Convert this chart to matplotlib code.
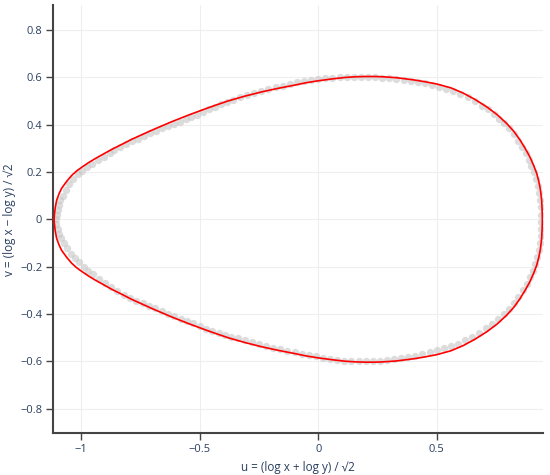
import numpy as np
from matplotlib import pyplot as plt

pts_u = [-1.105, -1.103, -1.100, -1.095, -1.088, -1.078, -1.065, -1.050, -1.035, -1.015,
         -0.995, -0.975, -0.955, -0.930, -0.905, -0.880, -0.860, -0.835, -0.810, -0.785,
         -0.760, -0.735, -0.710, -0.685, -0.660, -0.635, -0.610, -0.585, -0.560, -0.535,
         -0.510, -0.485, -0.460, -0.435, -0.410, -0.385, -0.360, -0.330, -0.300, -0.270,
         -0.240, -0.210, -0.180, -0.150, -0.120, -0.090, -0.060, -0.030, 0.000, 0.030,
         0.060, 0.090, 0.120, 0.150, 0.180, 0.210, 0.240, 0.270, 0.300, 0.330,
         0.360, 0.390, 0.420, 0.450, 0.480, 0.510, 0.540, 0.570, 0.600, 0.630,
         0.660, 0.690, 0.715, 0.740, 0.765, 0.785, 0.805, 0.825, 0.845, 0.860,
         0.875, 0.890, 0.900, 0.910, 0.920, 0.928, 0.933, 0.937, 0.939, 0.940,
         # lower half
         -1.105, -1.100, -1.094, -1.085, -1.072, -1.060, -1.045, -1.028, -1.010, -0.990,
         -0.970, -0.950, -0.925, -0.900, -0.875, -0.850, -0.820, -0.795, -0.770, -0.740,
         -0.715, -0.690, -0.660, -0.635, -0.610, -0.580, -0.555, -0.530, -0.500, -0.475,
         -0.450, -0.420, -0.395, -0.370, -0.340, -0.310, -0.280, -0.250, -0.220, -0.190,
         -0.160, -0.130, -0.100, -0.070, -0.040, -0.010, 0.020, 0.050, 0.080, 0.110,
         0.140, 0.170, 0.200, 0.230, 0.260, 0.290, 0.320, 0.350, 0.380, 0.410,
         0.440, 0.470, 0.500, 0.530, 0.560, 0.590, 0.620, 0.650, 0.680, 0.710,
         0.735, 0.760, 0.785, 0.805, 0.825, 0.845, 0.865, 0.880, 0.895, 0.905,
         0.915, 0.925, 0.932, 0.936, 0.939, 0.940, 0.941]
pts_v = [0.000, 0.020, 0.040, 0.060, 0.080, 0.100, 0.125, 0.150, 0.170, 0.190,
         0.205, 0.220, 0.235, 0.250, 0.265, 0.282, 0.293, 0.305, 0.318, 0.330,
         0.340, 0.351, 0.364, 0.374, 0.384, 0.394, 0.403, 0.412, 0.422, 0.432,
         0.442, 0.455, 0.465, 0.475, 0.485, 0.495, 0.505, 0.515, 0.525, 0.533,
         0.540, 0.550, 0.558, 0.565, 0.572, 0.578, 0.583, 0.588, 0.592, 0.595,
         0.598, 0.600, 0.600, 0.600, 0.600, 0.600, 0.600, 0.598, 0.597, 0.594,
         0.590, 0.585, 0.580, 0.575, 0.567, 0.560, 0.550, 0.540, 0.528, 0.515,
         0.500, 0.480, 0.465, 0.445, 0.425, 0.405, 0.385, 0.360, 0.330, 0.305,
         0.280, 0.250, 0.225, 0.200, 0.170, 0.140, 0.110, 0.080, 0.050, 0.020,
         # lower half
         -0.020, -0.040, -0.060, -0.080, -0.100, -0.120, -0.145, -0.165, -0.182, -0.200,
         -0.218, -0.232, -0.250, -0.268, -0.287, -0.302, -0.318, -0.331, -0.343, -0.355,
         -0.365, -0.376, -0.388, -0.398, -0.408, -0.419, -0.428, -0.438, -0.450, -0.461,
         -0.470, -0.479, -0.487, -0.495, -0.503, -0.511, -0.519, -0.527, -0.535, -0.542,
         -0.549, -0.555, -0.561, -0.567, -0.573, -0.579, -0.584, -0.588, -0.592, -0.597,
         -0.600, -0.600, -0.600, -0.600, -0.598, -0.595, -0.590, -0.585, -0.580, -0.575,
         -0.568, -0.560, -0.552, -0.545, -0.535, -0.525, -0.510, -0.495, -0.478, -0.460,
         -0.440, -0.420, -0.400, -0.380, -0.355, -0.330, -0.300, -0.275, -0.245, -0.220,
         -0.190, -0.160, -0.130, -0.100, -0.070, -0.040, -0.010]

# fitted closed curve (red)
curve_u = [-1.115, -1.114, -1.110, -1.104, -1.094, -1.083, -1.062, -1.041, -1.020, -0.998,
           -0.970, -0.942, -0.908, -0.872, -0.830, -0.787, -0.745, -0.703, -0.661, -0.619,
           -0.548, -0.478, -0.430, -0.380, -0.310, -0.239, -0.170, -0.098, -0.050, 0.000,
           0.060, 0.113, 0.160, 0.200, 0.240, 0.270, 0.330, 0.401, 0.450, 0.502,
           0.560, 0.612, 0.660, 0.711, 0.755, 0.795, 0.825, 0.851, 0.873, 0.893,
           0.909, 0.922, 0.931, 0.938, 0.943, 0.945, 0.946,
           0.945, 0.943, 0.938, 0.931, 0.922, 0.909, 0.893, 0.873, 0.851, 0.825,
           0.795, 0.755, 0.711, 0.660, 0.612, 0.560, 0.502, 0.450, 0.401, 0.330,
           0.270, 0.240, 0.200, 0.160, 0.113, 0.060, 0.000, -0.050, -0.098, -0.170,
           -0.239, -0.310, -0.380, -0.430, -0.478, -0.548, -0.619, -0.661, -0.703, -0.745,
           -0.787, -0.830, -0.872, -0.908, -0.942, -0.970, -0.998, -1.020, -1.041, -1.062,
           -1.083, -1.094, -1.104, -1.110, -1.114, -1.115]
curve_v = [0.000, 0.015, 0.050, 0.081, 0.108, 0.131, 0.160, 0.185, 0.204, 0.220,
           0.239, 0.256, 0.275, 0.295, 0.316, 0.338, 0.357, 0.376, 0.394, 0.412,
           0.440, 0.466, 0.483, 0.500, 0.520, 0.538, 0.553, 0.567, 0.577, 0.585,
           0.593, 0.599, 0.602, 0.603, 0.603, 0.602, 0.598, 0.589, 0.581, 0.571,
           0.555, 0.533, 0.507, 0.475, 0.442, 0.405, 0.372, 0.336, 0.300, 0.264,
           0.228, 0.194, 0.160, 0.124, 0.080, 0.039, 0.000,
           -0.039, -0.080, -0.124, -0.160, -0.194, -0.228, -0.264, -0.300, -0.336, -0.372,
           -0.405, -0.442, -0.475, -0.507, -0.533, -0.555, -0.571, -0.581, -0.589, -0.598,
           -0.602, -0.603, -0.603, -0.602, -0.599, -0.593, -0.585, -0.577, -0.567, -0.553,
           -0.538, -0.520, -0.500, -0.483, -0.466, -0.440, -0.412, -0.394, -0.376, -0.357,
           -0.338, -0.316, -0.295, -0.275, -0.256, -0.239, -0.220, -0.204, -0.185, -0.160,
           -0.131, -0.108, -0.081, -0.050, -0.015, 0.000]

x_ticks = [-1, -0.5, 0, 0.5]
x_labels = ['\u22121', '\u22120.5', '0', '0.5']
y_ticks = [-0.8, -0.6, -0.4, -0.2, 0, 0.2, 0.4, 0.6, 0.8]
y_labels = ['\u22120.8', '\u22120.6', '\u22120.4', '\u22120.2', '0', '0.2', '0.4', '0.6', '0.8']

plt.rcParams['font.family'] = ['Open Sans', 'DejaVu Sans']
text_color = '#2a3f5f'

fig = plt.figure(figsize=(5.5, 4.75), dpi=100)
ax = fig.add_axes([0.097, 0.088, 0.890, 0.901])

ax.scatter(pts_u, pts_v, s=28, color='#c6c6c6', alpha=0.6, linewidths=0, zorder=2)
ax.plot(curve_u, curve_v, color='red', linewidth=1.2, zorder=3)

ax.set_xlim(-1.118, 0.948)
ax.set_ylim(-0.903, 0.904)

ax.set_xticks(x_ticks)
ax.set_xticklabels(x_labels)
ax.set_yticks(y_ticks)
ax.set_yticklabels(y_labels)
ax.tick_params(direction='out', length=5, width=1, color='#444444',
               labelcolor=text_color, labelsize=8, pad=3)

ax.grid(True, color='#eeeeee', linewidth=0.8)
ax.set_axisbelow(True)
for side in ['top', 'right']:
    ax.spines[side].set_visible(False)
for side in ['left', 'bottom']:
    ax.spines[side].set_color('#444444')
    ax.spines[side].set_linewidth(1.5)

ax.set_xlabel('u = (log x + log y) / \u221a2', color=text_color, fontsize=8.5)
ax.set_ylabel('v = (log x \u2212 log y) / \u221a2', color=text_color, fontsize=8.5)
ax.xaxis.set_label_coords(0.5, -0.066)
ax.yaxis.set_label_coords(-0.076, 0.5)

fig.savefig('out.png', dpi=100)
